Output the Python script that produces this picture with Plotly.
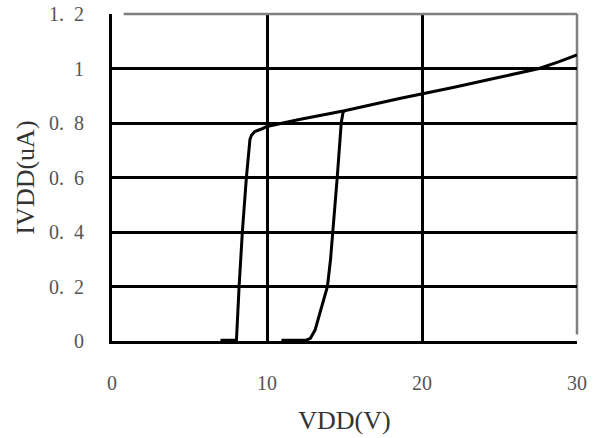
import plotly.graph_objects as go

# Curve 1: low threshold branch (turn-on near 8 V), then rise to 30 V
vdd_a = [7.0, 8.03, 8.2, 8.41, 8.67, 8.82, 8.9, 9.0, 9.2, 9.6, 10.0, 12.0, 15.0, 18.55, 22.0, 25.0, 27.56, 28.85, 30.0]
ivdd_a = [0.003, 0.003, 0.2, 0.4, 0.6, 0.71, 0.74, 0.755, 0.768, 0.777, 0.787, 0.812, 0.845, 0.89, 0.93, 0.968, 1.0, 1.025, 1.05]

# Curve 2: high threshold branch (turn-on near 14 V)
vdd_b = [10.93, 12.53, 12.8, 13.1, 13.4, 13.7, 13.9, 14.1, 14.25, 14.53, 14.79, 14.9, 15.0]
ivdd_b = [0.003, 0.003, 0.01, 0.04, 0.1, 0.16, 0.2, 0.3, 0.4, 0.6, 0.8, 0.838, 0.845]

x_ticks = [0, 10, 20, 30]
x_labels = ["0", "10", "20", "30"]
y_ticks = [0, 0.2, 0.4, 0.6, 0.8, 1.0, 1.2]
y_labels = ["0", "0.\u00a0 2", "0.\u00a0 4", "0.\u00a0 6", "0.\u00a0 8", "1", "1.\u00a0 2"]

font_family = "Liberation Serif, DejaVu Serif, serif"

fig = go.Figure()
fig.add_trace(go.Scatter(x=vdd_a, y=ivdd_a, mode="lines",
                         line=dict(color="black", width=3),
                         showlegend=False))
fig.add_trace(go.Scatter(x=vdd_b, y=ivdd_b, mode="lines",
                         line=dict(color="black", width=3),
                         showlegend=False))

fig.update_layout(
    width=603, height=438,
    margin=dict(l=112, r=26, t=14, b=97),
    paper_bgcolor="white", plot_bgcolor="white",
    font=dict(family=font_family, size=20, color="#555"),
    xaxis=dict(range=[0, 30], tickvals=x_ticks, ticktext=x_labels,
               showgrid=True, gridcolor="black", gridwidth=2.5,
               showline=True, linecolor="black", linewidth=3,
               zeroline=False, ticks="", ticklabelstandoff=22, automargin=False,
               ticklabeloverflow="allow",
               title=dict(text="VDD(V)", font=dict(size=26, color="#333"), standoff=18)),
    yaxis=dict(range=[0, 1.2], tickvals=y_ticks, ticktext=y_labels,
               showgrid=True, gridcolor="black", gridwidth=2.5,
               showline=True, linecolor="black", linewidth=3,
               zeroline=False, ticks="", ticklabelstandoff=21, automargin=False,
               ticklabeloverflow="allow",
               title=dict(text="IVDD(uA)", font=dict(size=26, color="#333"), standoff=7)),
    shapes=[
        dict(type="line", xref="paper", yref="paper", x0=0.025, x1=1, y0=1, y1=1,
             line=dict(color="#808080", width=2.5), layer="above"),
        dict(type="line", xref="paper", yref="paper", x0=1, x1=1, y0=0.02, y1=1,
             line=dict(color="#808080", width=2.5), layer="below"),
    ],
)

# remove the page's default 8px body margin so the figure sits at the window's corner
fig.write_html("out.html", config={"displayModeBar": False},
               post_script="document.body.style.margin='0';")
